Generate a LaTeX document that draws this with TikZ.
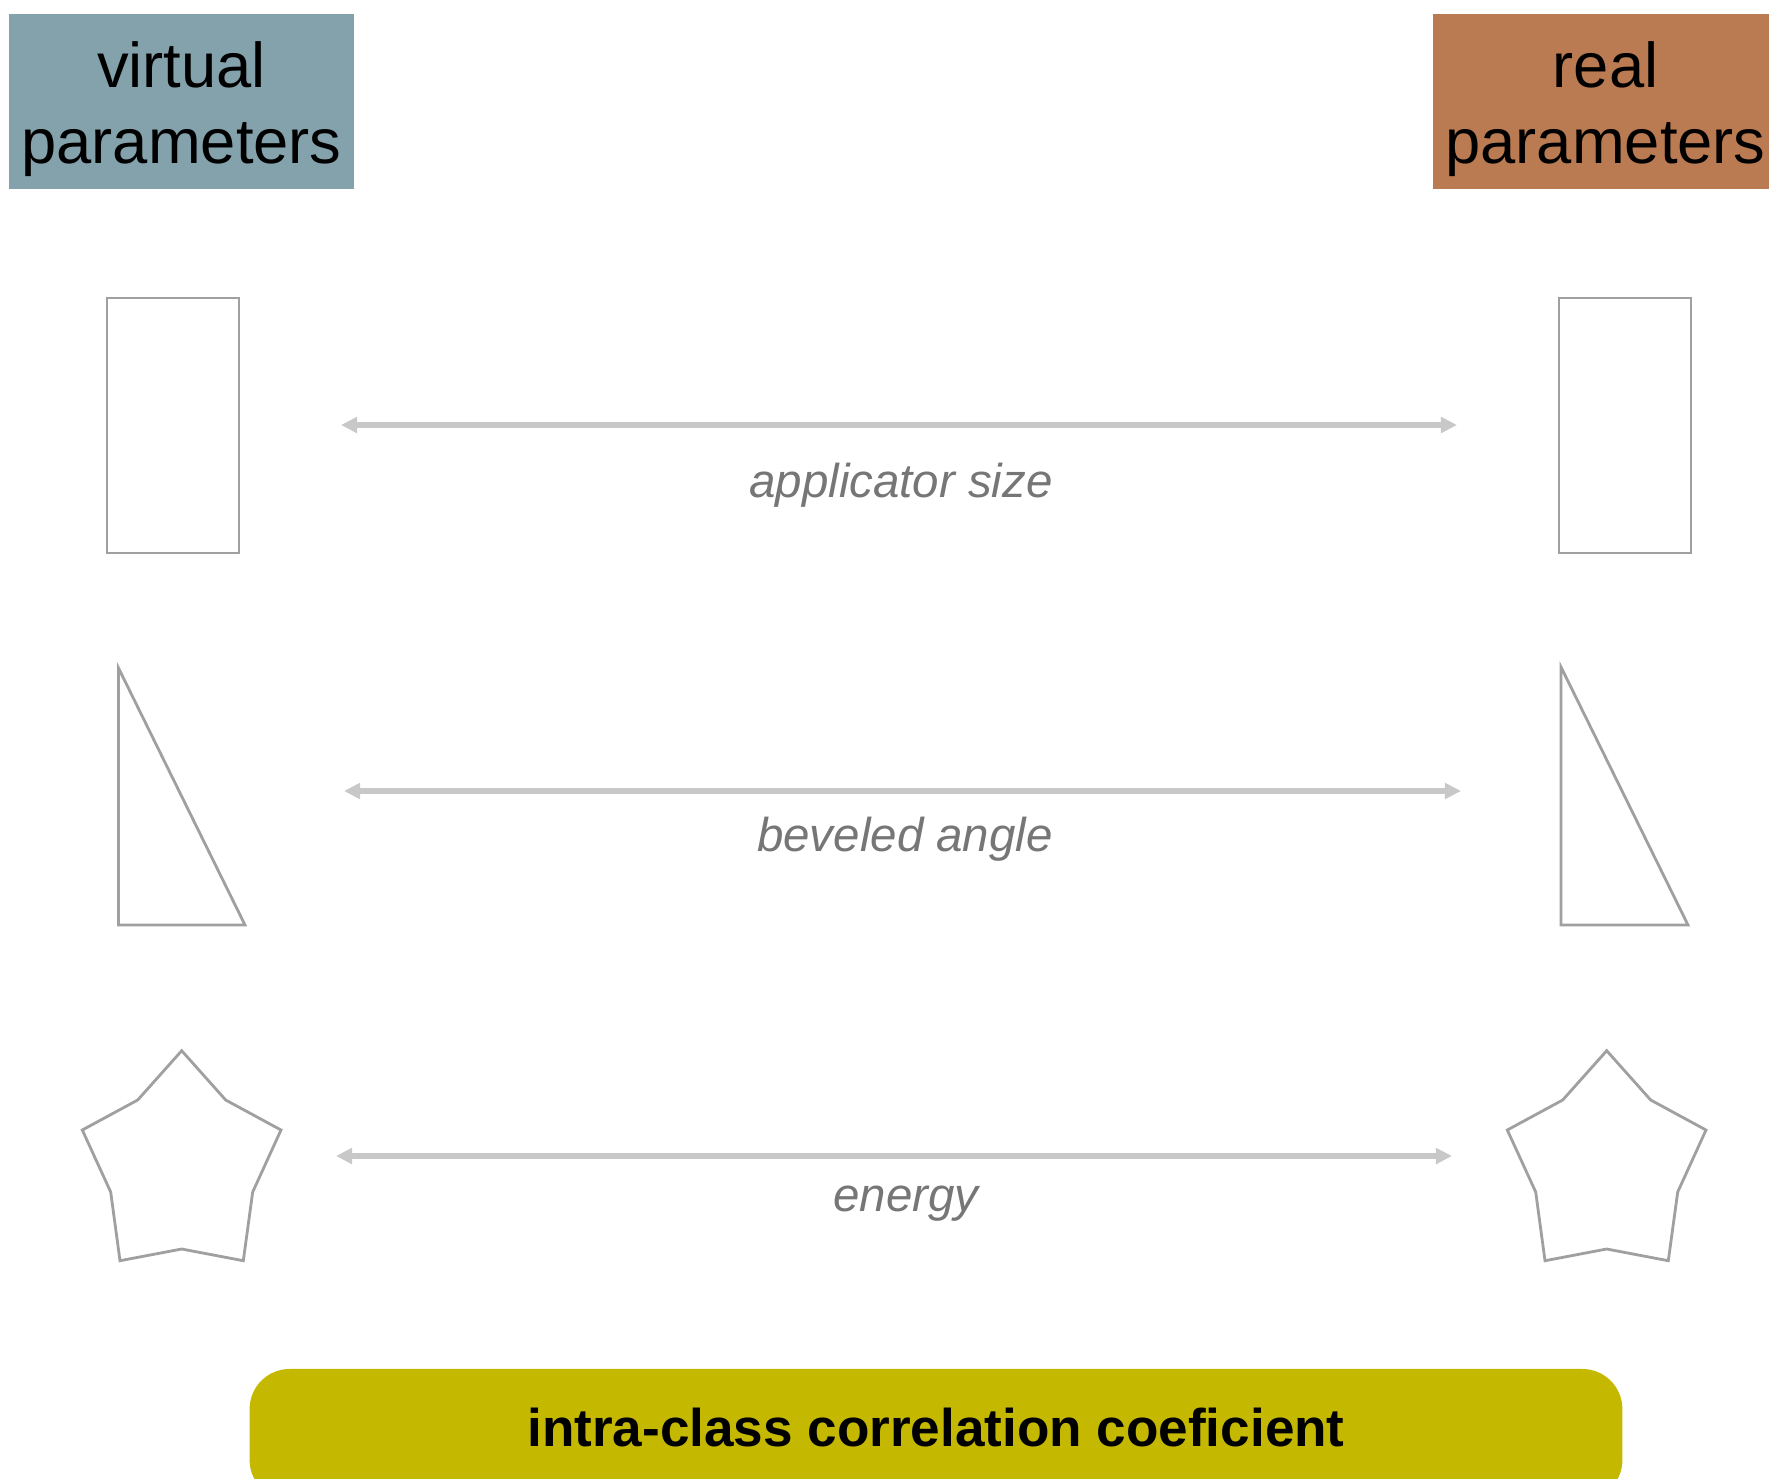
\documentclass[tikz,border=0pt]{standalone}
\usepackage{fontspec}
\setmainfont{Liberation Sans}
\definecolor{VirtualBlue}{HTML}{84A2AB}
\definecolor{RealBrown}{HTML}{BA7B52}
\definecolor{IccOlive}{HTML}{C4B900}
\definecolor{OutlineGray}{HTML}{A0A0A0}
\definecolor{ArrowGray}{HTML}{C8C8C8}
\definecolor{LabelGray}{HTML}{767676}
\usetikzlibrary{arrows.meta}
\tikzset{
  headbox/.style={minimum width=3.45cm, minimum height=1.75cm, inner sep=0pt, align=center, text height=39.1pt, font=\fontsize{18}{21.6}\selectfont},
  shapeline/.style={draw=OutlineGray, line width=0.8pt, line join=miter},
  pairarrow/.style={{Triangle[length=4.6pt,width=4.4pt]}-{Triangle[length=4.6pt,width=4.4pt]}, line width=1.6pt, draw=ArrowGray},
  pairlabel/.style={anchor=base, inner sep=0pt, text=LabelGray, font=\fontsize{13.5}{16}\selectfont\itshape}
}

\begin{document}
\begin{tikzpicture}[
  x=0.01cm, y=-0.01cm,
  sizebox/.style={shapeline, minimum width=1.32cm, minimum height=2.55cm, inner sep=0pt},
  iccbox/.style={fill=IccOlive, rounded corners=0.4cm, minimum width=13.72cm, minimum height=1.31cm, inner sep=0pt, text depth=4pt, font=\fontsize{15.1}{18}\selectfont\bfseries}
]
\useasboundingbox (0,0) rectangle (1769,1478);
\clip (0,0) rectangle (1769,1478);

% column headers
\node[headbox, fill=VirtualBlue] (virtual) at (181.5,101.5) {virtual\\parameters};
\node[headbox, fill=RealBrown] (real) at (1605.5,101.5) {real\\parameters};

% applicator size
\node[sizebox] (vsize) at (173,425.5) {};
\node[sizebox] (rsize) at (1625,425.5) {};

% beveled angle
\draw[shapeline] (118.5,668) -- (118.5,925) -- (245,925) -- cycle;
\draw[shapeline] (1561,667) -- (1561,925) -- (1688,925) -- cycle;

% energy
\foreach \dx in {0,1425} {
  \draw[shapeline, shift={(\dx,0)}] (181.7,1050.7) -- (225.7,1100) -- (281,1130) -- (252.7,1192)
    -- (243.3,1260.7) -- (181.7,1249) -- (120,1260.7) -- (110.7,1192) -- (82.3,1130) -- (137.7,1100) -- cycle;
}

\coordinate (sizeL) at (341,425);
\coordinate (sizeR) at (1457,425);
\coordinate (angleL) at (344,791);
\coordinate (angleR) at (1461,791);
\coordinate (energyL) at (336,1156);
\coordinate (energyR) at (1452,1156);

\draw[pairarrow] (sizeL) -- (sizeR);
\draw[pairarrow] (angleL) -- (angleR);
\draw[pairarrow] (energyL) -- (energyR);

\node[pairlabel] (sizelabel) at (901,497) {applicator size};
\node[pairlabel] (anglelabel) at (905,851) {beveled angle};
\node[pairlabel] (energylabel) at (906,1211) {energy};

\node[iccbox] (icc) at (936,1434.5) {intra-class correlation coeficient};
\end{tikzpicture}
\end{document}
